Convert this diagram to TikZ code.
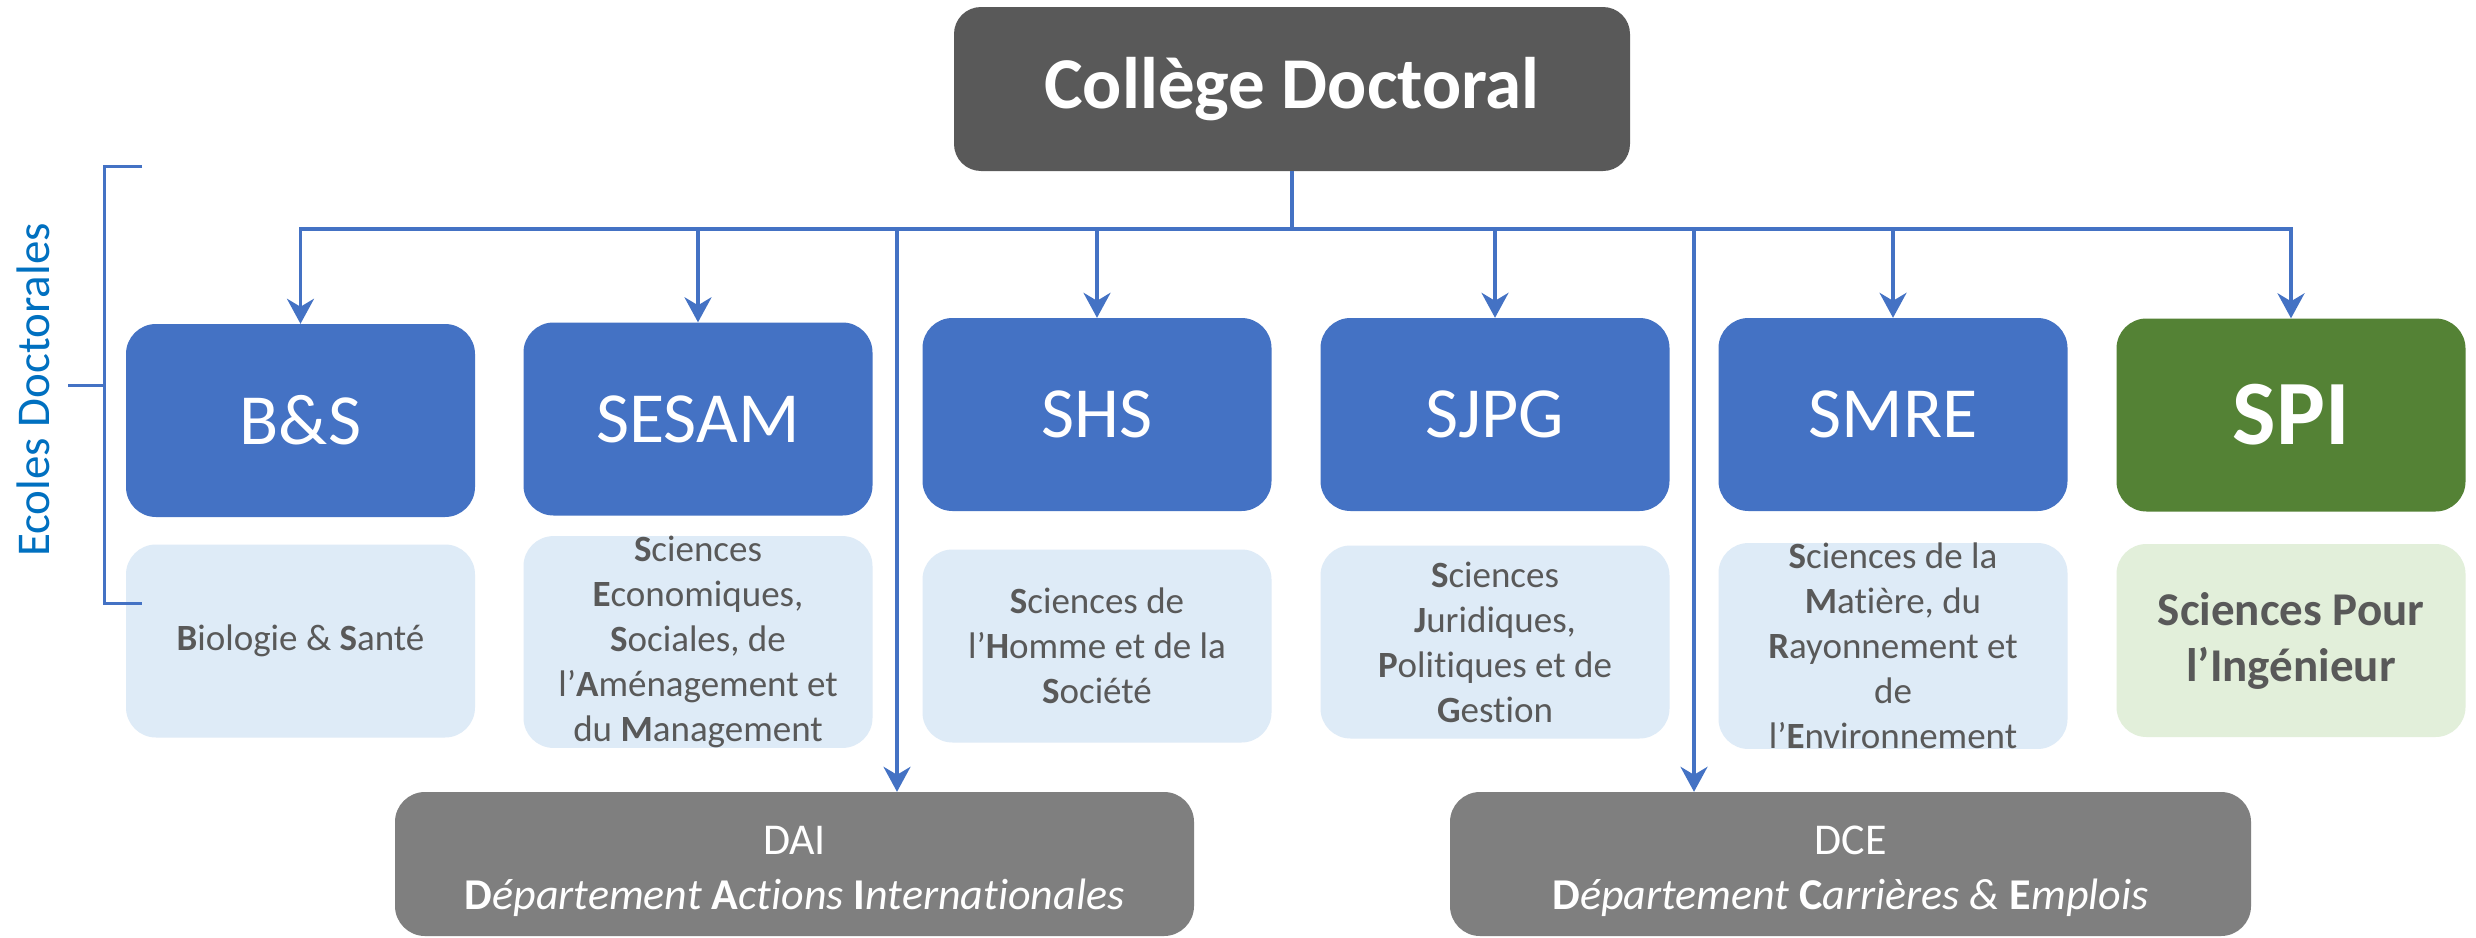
\documentclass[tikz,border=0pt]{standalone}
\usepackage{fontspec}
\setmainfont{Carlito}[Ligatures=NoCommon]
\usetikzlibrary{arrows.meta}
\definecolor{boxblue}{HTML}{4472C4}
\definecolor{lightblue}{HTML}{DEEBF7}
\definecolor{spigreen}{HTML}{548235}
\definecolor{lightgreen}{HTML}{E2EFDA}
\definecolor{cdgray}{HTML}{595959}
\definecolor{deptgray}{HTML}{7F7F7F}
\definecolor{txtgray}{HTML}{595959}
\definecolor{ecoblue}{HTML}{0070C0}
\begin{document}
\begin{tikzpicture}[x=1pt,y=-1pt,
  box/.style={rectangle, rounded corners=30pt, inner sep=0pt, minimum width=349pt, minimum height=193pt, align=center},
  edbox/.style={box, fill=boxblue, text=white, font=\fontsize{72}{86}\selectfont},
  descbox/.style={box, fill=lightblue, text=txtgray, font=\fontsize{37}{45}\selectfont},
  deptbox/.style={rectangle, rounded corners=30pt, inner sep=0pt, minimum height=144pt, fill=deptgray},
  depttext/.style={align=center, text=white, inner sep=0pt, font=\fontsize{44}{55}\selectfont},
  conn/.style={draw=boxblue, line width=3.5pt},
  arr/.style={conn, -{Stealth[length=25pt,width=27pt,inset=8pt]}},
  brk/.style={draw=boxblue, line width=3pt}]
\fill[white] (0,0) rectangle (2476,937);
\useasboundingbox (0,0) rectangle (2476,937);

% top box
\node[rectangle, rounded corners=27pt, fill=cdgray, minimum width=676pt, minimum height=164pt, inner sep=0pt,
      text=white, font=\fontsize{73}{88}\selectfont\bfseries] (cd) at (1292,89) {Collège Doctoral};

% doctoral schools
\node[edbox] (bs)    at (300.5,420.5) {B\&S};
\node[edbox] (sesam) at (698,419)     {SESAM};
\node[edbox] (shs)   at (1097,414.5)  {SHS};
\node[edbox] (sjpg)  at (1495,414.5)  {SJPG};
\node[edbox] (smre)  at (1893,414.5)  {SMRE};
\node[edbox, fill=spigreen, font=\fontsize{92}{110}\selectfont\bfseries] (spi) at (2291,415) {SPI};

% descriptions
\node[descbox] (bsd)    at (300.5,641) {\textbf{B}iologie \& \textbf{S}anté};
\node[descbox] (sesamd) at (698,642) {\textbf{S}ciences\\\textbf{E}conomiques,\\\textbf{S}ociales, de\\l’\textbf{A}ménagement et\\du \textbf{M}anagement};
\node[descbox] (shsd)   at (1097,646)  {\textbf{S}ciences de\\l’\textbf{H}omme et de la\\\textbf{S}ociété};
\node[descbox] (sjpgd)  at (1495,642)  {\textbf{S}ciences\\\textbf{J}uridiques,\\\textbf{P}olitiques et de\\\textbf{G}estion};
\node[descbox] (smred)  at (1893,646)  {\textbf{S}ciences de la\\\textbf{M}atière, du\\\textbf{R}ayonnement et\\de\\l’\textbf{E}nvironnement};
\node[descbox, fill=lightgreen, font=\fontsize{47}{56}\selectfont\bfseries] (spid) at (2291,640.5) {Sciences Pour\\l’Ingénieur};

% departments
\node[deptbox, minimum width=799pt] (dai) at (794.5,864) {};
\node[depttext] (daitext) at (794.5,871) {DAI\\\textit{\textbf{\upshape D}épartement \textbf{\upshape A}ctions \textbf{\upshape I}nternationales}};
\node[deptbox, minimum width=801pt] (dce) at (1850.5,864) {};
\node[depttext] (dcetext) at (1850.5,871) {DCE\\\textit{\textbf{\upshape D}épartement \textbf{\upshape C}arrières \& \textbf{\upshape E}mplois}};

% connectors
\coordinate (hl) at (300.5,229);
\coordinate (hr) at (2291,229);
\coordinate (daiin) at (897,229);
\coordinate (dcein) at (1694,229);
\draw[conn] (cd.south) -- (cd.south |- hl);
\draw[conn, {Stealth[length=25pt,width=27pt,inset=8pt]}-{Stealth[length=25pt,width=27pt,inset=8pt]}]
  (bs.north) -- (hl) -- (hr) -- (spi.north);
\draw[arr] (sesam.north |- hl) -- (sesam.north);
\draw[arr] (shs.north |- hl) -- (shs.north);
\draw[arr] (sjpg.north |- hl) -- (sjpg.north);
\draw[arr] (smre.north |- hl) -- (smre.north);
\draw[arr] (daiin) -- (daiin |- dai.north);
\draw[arr] (dcein) -- (dcein |- dce.north);

% Ecoles Doctorales bracket
\coordinate (b1) at (142,166);
\coordinate (b2) at (104,166);
\coordinate (b3) at (104,603);
\coordinate (b4) at (142,603);
\coordinate (bm) at (104,385);
\coordinate (bt) at (68,385);
\draw[brk] (b1) -- (b2) -- (b3) -- (b4);
\draw[brk] (bt) -- (bm);
\node[rotate=90, text=ecoblue, inner sep=0pt, font=\fontsize{47}{56}\selectfont] (eco) at (33,390) {Ecoles Doctorales};
\end{tikzpicture}
\end{document}
